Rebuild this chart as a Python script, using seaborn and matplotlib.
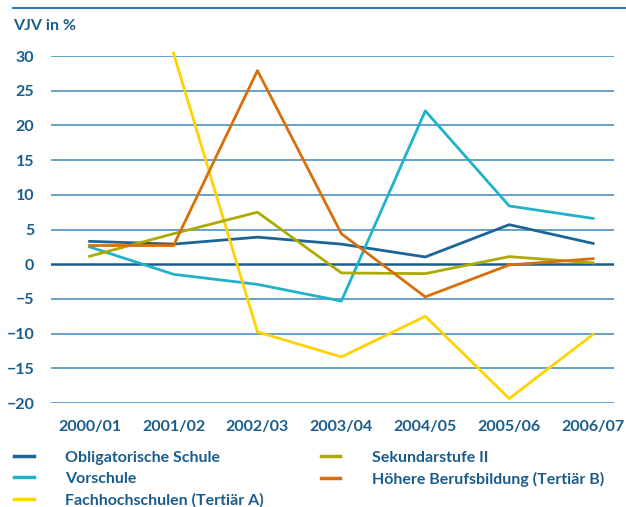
import seaborn as sns
import matplotlib.pyplot as plt
from matplotlib.lines import Line2D
import numpy as np
import pandas as pd

years = ['2000/01', '2001/02', '2002/03', '2003/04', '2004/05', '2005/06', '2006/07']

obligatorisch = [3.3, 2.9, 3.9, 2.9, 1.05, 5.7, 3.0]
vorschule = [2.5, -1.45, -2.9, -5.3, 22.1, 8.4, 6.6]
fachhochschulen = [np.nan, 30.4, -9.75, -13.35, -7.5, -19.35, -10.1]
sekundar = [1.15, 4.4, 7.5, -1.25, -1.35, 1.1, 0.2]
hoehere = [2.7, 2.7, 27.9, 4.4, -4.7, -0.1, 0.8]

names = ['Obligatorische Schule', 'Vorschule', 'Fachhochschulen (Tertiär A)',
         'Sekundarstufe II', 'Höhere Berufsbildung (Tertiär B)']
colors = ['#1b6598', '#1fb2c9', '#ffd200', '#adab00', '#d7700c']

rows = []
for name, vals in zip(names, [obligatorisch, vorschule, fachhochschulen, sekundar, hoehere]):
    for i, v in enumerate(vals):
        rows.append({'x': i, 'VJV': v, 'Serie': name})
df = pd.DataFrame(rows).dropna()

txt = '#1a5d8c'
grid = '#5b9ac4'
plt.rcParams['font.family'] = ['Lato', 'DejaVu Sans']

fig = plt.figure(figsize=(6.26, 5.07), dpi=100)
ax = fig.add_axes([0.0815, 0.205, 0.8995, 0.6845])

# Gitterlinien, Nulllinie dunkler
for y in range(-20, 31, 5):
    if y == 0:
        ax.axhline(y, color=txt, lw=1.8, zorder=1)
    else:
        ax.axhline(y, color=grid, lw=1.3, zorder=1)

sns.lineplot(data=df, x='x', y='VJV', hue='Serie', hue_order=names,
             palette=dict(zip(names, colors)), linewidth=2.0, ax=ax,
             sort=False, estimator=None, legend=False, clip_on=False, zorder=3)

ax.set_xlim(-0.46, 6.25)
ax.set_ylim(-20, 30)
ax.set_xticks(range(len(years)))
ax.set_xticklabels(years)
ax.set_yticks(range(-20, 31, 5))
for s in ax.spines.values():
    s.set_visible(False)
ax.tick_params(length=0, colors=txt, labelsize=11.5)
ax.tick_params(axis='x', pad=12)
ax.tick_params(axis='y', pad=12)
for lab in ax.get_xticklabels() + ax.get_yticklabels():
    lab.set_fontweight('bold')
ax.set_xlabel('')
ax.set_ylabel('')

fig.text(0.021, 0.94, 'VJV in %', color=txt, fontsize=11.5, fontweight='bold')
fig.add_artist(Line2D([0.021, 1.0], [0.984, 0.984], color='#2f7db0', lw=1.5))

handles = [Line2D([], [], color=c, lw=2.5) for c in colors]
fig.legend(handles, names, ncol=2, loc='upper left', bbox_to_anchor=(0.0, 0.14),
           frameon=False, labelcolor=txt, handlelength=1.2,
           handletextpad=2.0, columnspacing=3.55, labelspacing=0.45,
           prop={'weight': 'bold', 'size': 11.5})

fig.savefig('out.png', dpi=100)
